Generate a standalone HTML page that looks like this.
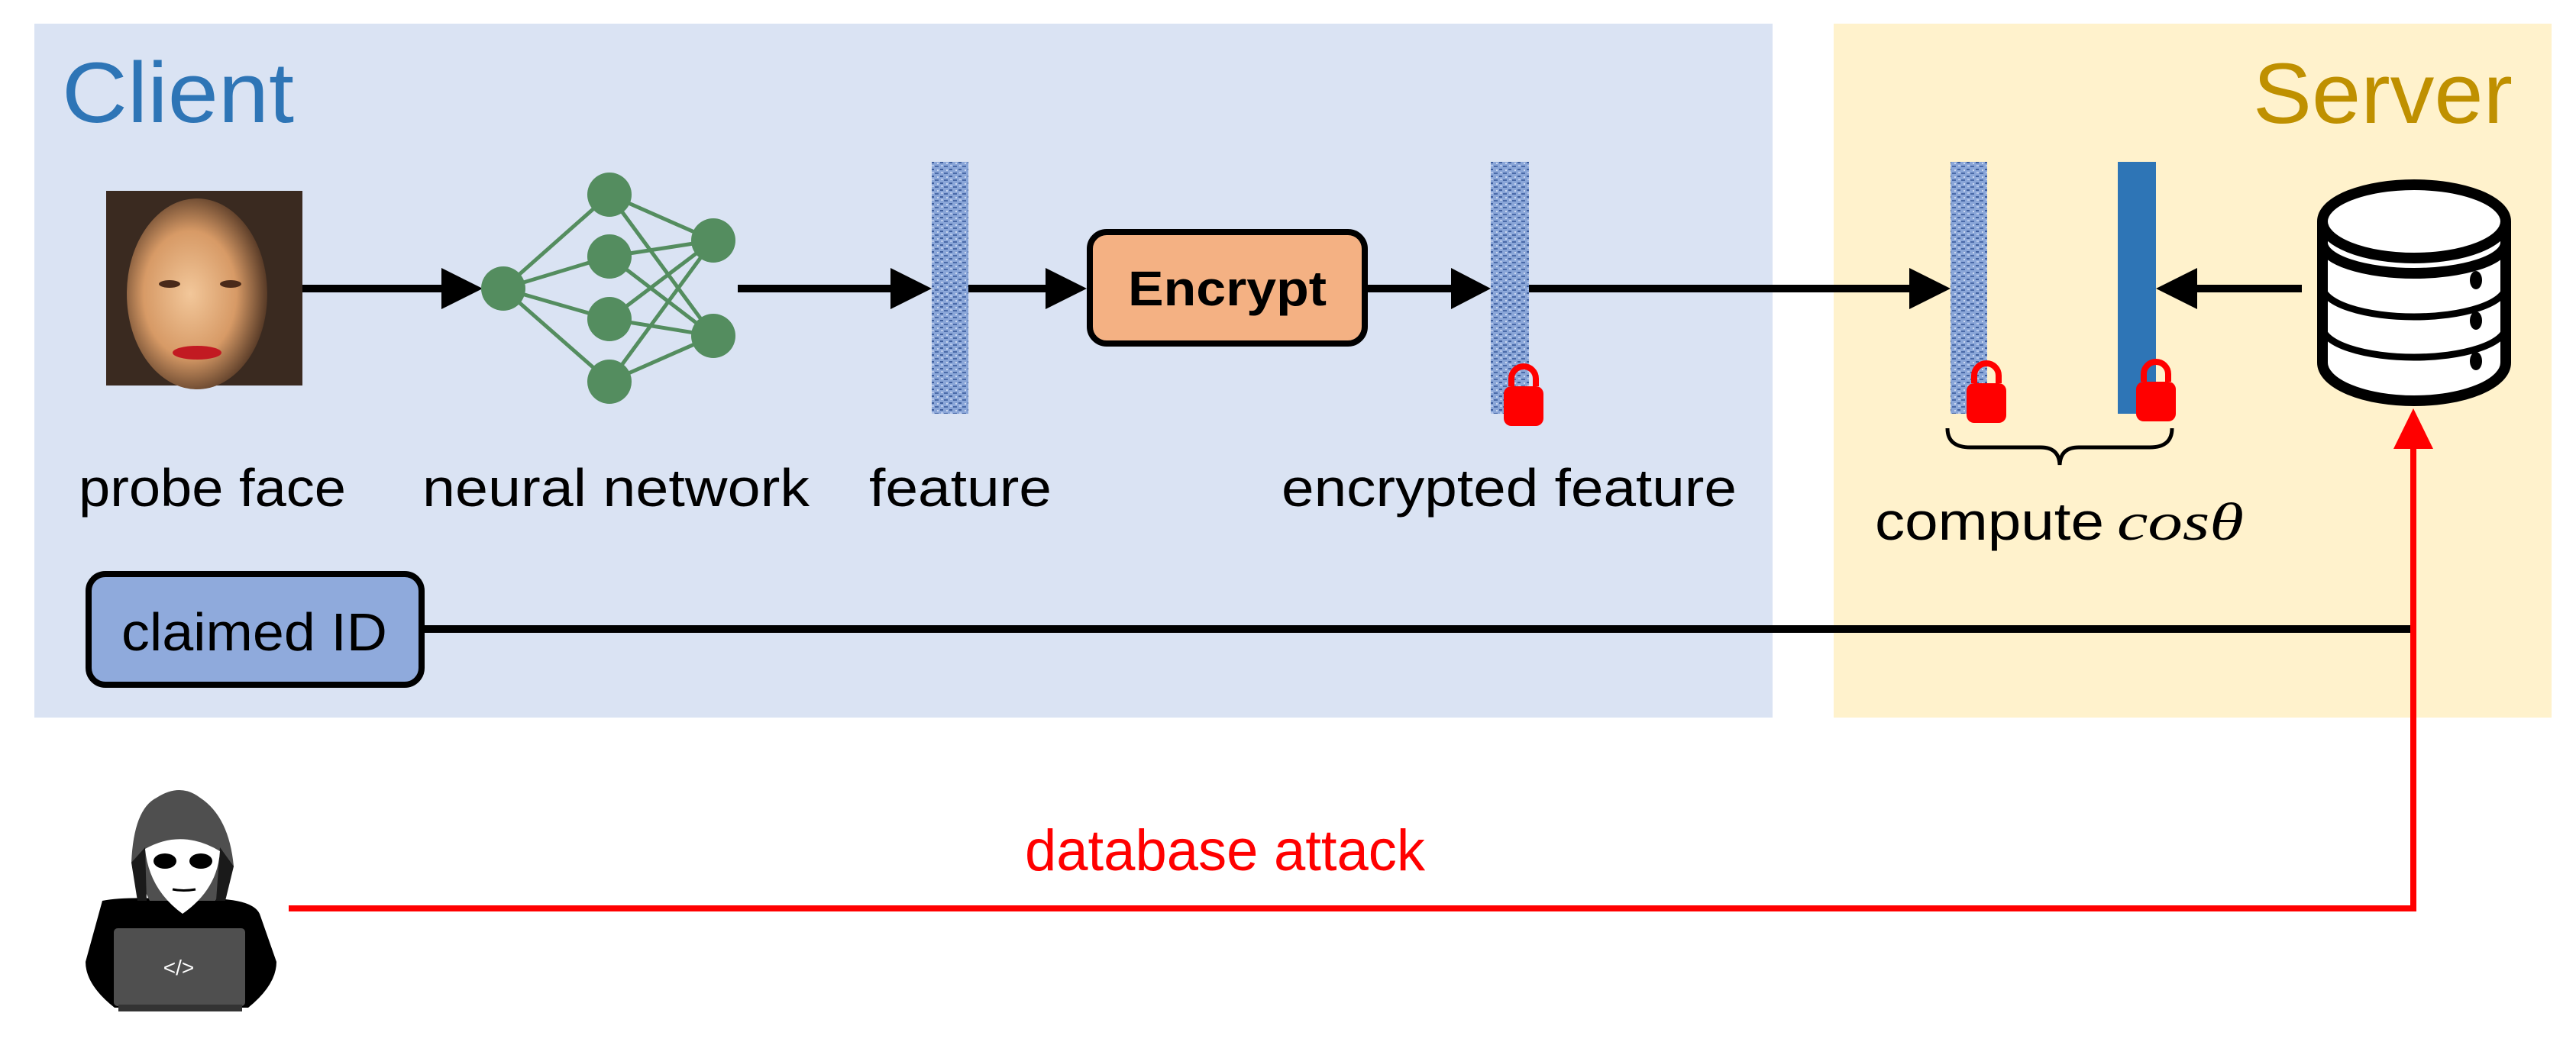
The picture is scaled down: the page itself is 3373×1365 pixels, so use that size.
<!DOCTYPE html>
<html><head><meta charset="utf-8"><style>html,body{margin:0;padding:0;background:#fff}svg{display:block}</style></head>
<body>
<svg width="3373" height="1365" viewBox="0 0 3373 1365" xmlns="http://www.w3.org/2000/svg" font-family="Liberation Sans, sans-serif">
<defs>
<pattern id="nz" width="12" height="9" patternUnits="userSpaceOnUse">
<rect width="12" height="9" fill="#8aa6d8"/>
<rect x="0" y="1" width="5" height="2" fill="#4a6aa8"/>
<rect x="7" y="5" width="4" height="2" fill="#3f5f9e"/>
<rect x="3" y="6" width="2" height="2" fill="#c9d6ef"/>
<rect x="8" y="0" width="3" height="2" fill="#b7c8ea"/>
</pattern>
<g id="lock">
<path d="M12 30 V20 a16 16 0 0 1 32 0 V30" fill="none" stroke="#f00" stroke-width="8"/>
<rect x="2" y="30" width="52" height="52" rx="10" fill="#f00"/>
</g>
<radialGradient id="fg" cx="0.45" cy="0.5" r="0.6"><stop offset="0" stop-color="#f2c79a"/><stop offset="0.55" stop-color="#d79a66"/><stop offset="1" stop-color="#3a2418"/></radialGradient>
</defs>
<rect x="45" y="31" width="2276" height="909" fill="#dae3f3"/>
<rect x="2401" y="31" width="940" height="909" fill="#fff2cc"/>
<text x="81" y="160" font-size="112" fill="#2e75b6" textLength="304" lengthAdjust="spacingAndGlyphs">Client</text>
<text x="2950" y="161" font-size="112" fill="#bf9000" textLength="340" lengthAdjust="spacingAndGlyphs">Server</text>
<rect x="139" y="250" width="257" height="255" fill="#3a2a20"/>
<ellipse cx="258" cy="385" rx="92" ry="125" fill="url(#fg)"/>
<ellipse cx="258" cy="462" rx="32" ry="9" fill="#c21a22"/>
<ellipse cx="222" cy="372" rx="14" ry="5" fill="#4a2a1a"/>
<ellipse cx="302" cy="372" rx="14" ry="5" fill="#4a2a1a"/>
<g stroke="#000" stroke-width="10">
<line x1="396" y1="378" x2="590" y2="378"/>
<line x1="966" y1="378" x2="1175" y2="378"/>
<line x1="1268" y1="378" x2="1380" y2="378"/>
<line x1="1791" y1="378" x2="1910" y2="378"/>
<line x1="2002" y1="378" x2="2510" y2="378"/>
<line x1="2865" y1="378" x2="3014" y2="378"/>
<line x1="556" y1="824" x2="3160" y2="824"/>
</g>
<g fill="#000">
<polygon points="632,378 578,351 578,405"/>
<polygon points="1220,378 1166,351 1166,405"/>
<polygon points="1423,378 1369,351 1369,405"/>
<polygon points="1952,378 1900,351 1900,405"/>
<polygon points="2554,378 2500,351 2500,405"/>
<polygon points="2823,378 2877,351 2877,405"/>
</g>
<g stroke="#548d5f" stroke-width="5">
<line x1="659" y1="378" x2="798" y2="255"/><line x1="659" y1="378" x2="798" y2="336"/><line x1="659" y1="378" x2="798" y2="418"/><line x1="659" y1="378" x2="798" y2="500"/>
<line x1="798" y1="255" x2="934" y2="315"/><line x1="798" y1="255" x2="934" y2="440"/>
<line x1="798" y1="336" x2="934" y2="315"/><line x1="798" y1="336" x2="934" y2="440"/>
<line x1="798" y1="418" x2="934" y2="315"/><line x1="798" y1="418" x2="934" y2="440"/>
<line x1="798" y1="500" x2="934" y2="315"/><line x1="798" y1="500" x2="934" y2="440"/>
</g>
<g fill="#548d5f">
<circle cx="659" cy="378" r="29"/><circle cx="798" cy="255" r="29"/><circle cx="798" cy="336" r="29"/><circle cx="798" cy="418" r="29"/><circle cx="798" cy="500" r="29"/><circle cx="934" cy="315" r="29"/><circle cx="934" cy="440" r="29"/>
</g>
<rect x="1220" y="212" width="48" height="330" fill="url(#nz)"/>
<rect x="1952" y="212" width="50" height="330" fill="url(#nz)"/>
<rect x="2554" y="212" width="48" height="330" fill="url(#nz)"/>
<rect x="2773" y="212" width="50" height="330" fill="#2e75b6"/>
<use href="#lock" x="1967" y="476"/>
<use href="#lock" x="2573" y="472"/>
<use href="#lock" x="2795" y="470"/>
<rect x="1427" y="304" width="360" height="146" rx="22" fill="#f4b183" stroke="#000" stroke-width="8"/>
<text x="1607" y="400" font-size="64" font-weight="bold" text-anchor="middle" textLength="260" lengthAdjust="spacingAndGlyphs">Encrypt</text>
<!-- database -->
<g stroke="#000" fill="#fff">
<path d="M3041 290 V475 A120 50 0 0 0 3281 475 V290" stroke-width="14"/>
<ellipse cx="3161" cy="290" rx="120" ry="48" stroke-width="14"/>
<path d="M3041 318 A120 40 0 0 0 3281 318" fill="none" stroke-width="14"/>
<path d="M3041 375 A120 40 0 0 0 3281 375" fill="none" stroke-width="9"/>
<path d="M3041 428 A120 40 0 0 0 3281 428" fill="none" stroke-width="9"/>
</g>
<g fill="#000"><ellipse cx="3242" cy="367" rx="8" ry="12"/><ellipse cx="3242" cy="420" rx="8" ry="12"/><ellipse cx="3242" cy="473" rx="8" ry="12"/></g>
<path d="M2550 561 Q2550 586 2580 586 L2672 586 Q2696 586 2697 609 Q2698 586 2722 586 L2815 586 Q2844 586 2844 561" fill="none" stroke="#000" stroke-width="5"/>
<g font-size="70" fill="#000">
<text x="103" y="663" textLength="350" lengthAdjust="spacingAndGlyphs">probe face</text>
<text x="553" y="663" textLength="507" lengthAdjust="spacingAndGlyphs">neural network</text>
<text x="1138" y="663" textLength="239" lengthAdjust="spacingAndGlyphs">feature</text>
<text x="1678" y="663" textLength="596" lengthAdjust="spacingAndGlyphs">encrypted feature</text>
<text x="2455" y="707" textLength="300" lengthAdjust="spacingAndGlyphs">compute</text>
<text x="2772" y="707" font-family="Liberation Serif, serif" font-style="italic" textLength="166" lengthAdjust="spacingAndGlyphs">cosθ</text>
</g>
<rect x="116" y="752" width="436" height="145" rx="22" fill="#8faadc" stroke="#000" stroke-width="8"/>
<text x="159" y="852" font-size="70" textLength="348" lengthAdjust="spacingAndGlyphs">claimed ID</text>
<polyline points="378,1190 3160,1190 3160,580" stroke="#f00" stroke-width="8" fill="none"/>
<polygon points="3160,535 3134,588 3186,588" fill="#f00"/>
<text x="1342" y="1140" font-size="76" fill="#f00" textLength="524" lengthAdjust="spacingAndGlyphs">database attack</text>
<!-- hacker -->
<path d="M134 1180 Q160 1175 210 1177 L270 1177 Q335 1177 341 1200 L362 1260 Q362 1290 325 1320 L150 1320 Q112 1290 112 1260 Z" fill="#000"/>
<path d="M172 1130 Q175 1060 205 1045 Q236 1025 262 1045 Q300 1070 306 1135 L282 1180 L196 1180 Z" fill="#4f4f4f"/>
<path d="M172 1130 L190 1110 L192 1180 L180 1180 Z" fill="#1a1a1a"/>
<path d="M306 1135 L288 1110 L283 1180 L295 1180 Z" fill="#1a1a1a"/>
<path d="M190 1112 Q238 1085 288 1115 Q285 1165 239 1197 Q195 1165 190 1112Z" fill="#fff"/>
<ellipse cx="216" cy="1128" rx="15" ry="10" fill="#000"/>
<ellipse cx="263" cy="1128" rx="15" ry="10" fill="#000"/>
<path d="M226 1165 Q240 1168 256 1165" stroke="#000" stroke-width="3" fill="none"/>
<rect x="149" y="1216" width="172" height="102" rx="5" fill="#4f4f4f"/>
<rect x="155" y="1316" width="162" height="9" fill="#333"/>
<text x="234" y="1277" font-size="28" fill="#fff" text-anchor="middle">&lt;/&gt;</text>
</svg>
</body></html>
